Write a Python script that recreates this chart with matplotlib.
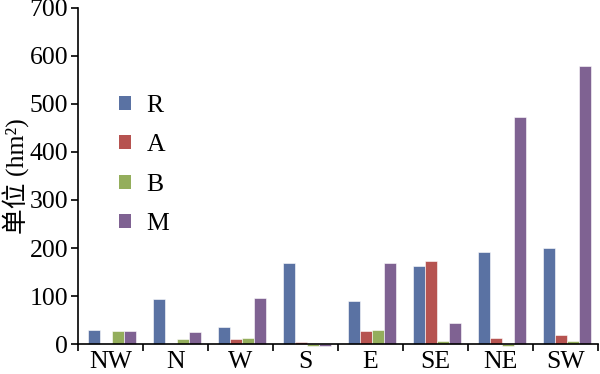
import numpy as np
import matplotlib.pyplot as plt
from matplotlib.patches import Patch

plt.rcParams['font.family'] = ['Liberation Serif', 'Noto Sans CJK SC']

directions = ['NW', 'N', 'W', 'S', 'E', 'SE', 'NE', 'SW']
series = ['R', 'A', 'B', 'M']
R = [30, 93, 36, 168, 90, 162, 191, 200]
A = [0, 0, 10, 4, 27, 174, 13, 19]
B = [28, 10, 13, -4, 30, 7, -4, 7]
M = [28, 25, 96, -4, 168, 43, 472, 578]
colors = ['#5A72A3', '#B65350', '#94AE5C', '#7F6292']

fig = plt.figure(figsize=(6, 3.74), dpi=100)
ax = fig.add_axes([0.13, 0.08, 0.867, 0.899])

x = np.arange(len(directions))
w = 0.185
for j, (vals, c) in enumerate(zip([R, A, B, M], colors)):
    ax.bar(x + (j - 1.5) * w + 0.025, vals, w, color=c, edgecolor='white',
           linewidth=0.4, clip_on=False)

ax.set_xlim(-0.5, 7.5)
ax.set_ylim(0, 700)
ax.set_yticks(range(0, 701, 100))
ax.set_xticks(x)
ax.set_xticklabels(directions)
ax.set_xticks(np.arange(-0.5, 7.6, 1), minor=True)
ax.tick_params(axis='x', which='major', length=0, pad=5, labelsize=18.5)
ax.tick_params(axis='x', which='minor', length=5, width=1.2, direction='out')
ax.tick_params(axis='y', length=5, width=1.2, direction='out', labelsize=18.5, pad=2)
for s in ['top', 'right']:
    ax.spines[s].set_visible(False)
for s in ['left', 'bottom']:
    ax.spines[s].set_linewidth(1.2)
ax.set_ylabel('单位 (hm²)', fontsize=18.5, labelpad=0)

handles = [Patch(facecolor=c, label=s) for s, c in zip(series, colors)]
ax.legend(handles=handles, loc='upper left', bbox_to_anchor=(0.035, 0.81),
          frameon=False, fontsize=18.5, handlelength=0.45, handleheight=0.45,
          labelspacing=0.68, handletextpad=0.6)

fig.savefig('out.png')
